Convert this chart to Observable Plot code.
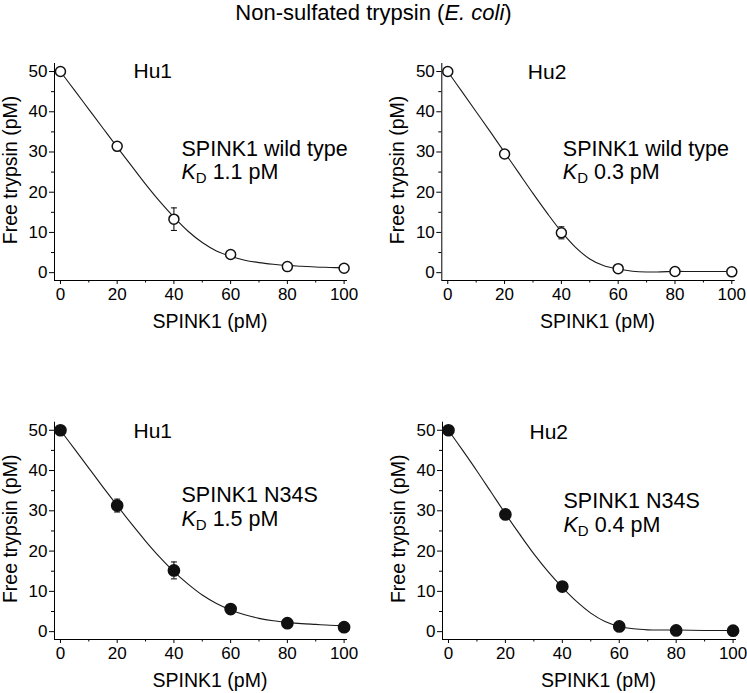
<!DOCTYPE html>
<html>
<head>
<meta charset="utf-8">
<script src="https://cdn.jsdelivr.net/npm/d3@7"></script>
<script src="https://cdn.jsdelivr.net/npm/@observablehq/plot@0.6"></script>
<style>
  html, body { margin: 0; padding: 0; background: #fff; }
  #page { position: relative; width: 747px; height: 693px; font-family: "Liberation Sans", Arial, sans-serif; color: #000; }
  #title { position: absolute; left: 0; top: 0; width: 747px; text-align: center; font-size: 22px; line-height: 26px; z-index: 2; }
  .panel { position: absolute; }
  .panel svg { overflow: visible; }
</style>
</head>
<body>
<div id="page">
  <div id="title">Non-sulfated trypsin (<i>E. coli</i>)</div>
</div>
<script>
// ---------- data ----------
const SPINK1_CONC = [0, 20, 40, 60, 80, 100];
const CURVE_CONC = [0, 5, 10, 15, 20, 25, 30, 35, 40, 45, 50, 55, 60, 65, 70, 75, 80, 85, 90, 95, 100];

const PANEL_ENZYME  = ["Hu1", "Hu2", "Hu1", "Hu2"];
const PANEL_VARIANT = ["SPINK1 wild type", "SPINK1 wild type", "SPINK1 N34S", "SPINK1 N34S"];
const PANEL_KD      = ["1.1", "0.3", "1.5", "0.4"];
const PANEL_FILLED  = [false, false, true, true];

const FREE_HU1_WT   = [50, 31.4, 13.3, 4.5, 1.5, 1.1];
const ERR_HU1_WT    = [0.3, 0.5, 2.8, 0.4, 0.3, 0.2];
const FREE_HU2_WT   = [50, 29.5, 9.9, 1.0, 0.3, 0.2];
const ERR_HU2_WT    = [0.2, 0.5, 1.5, 0.3, 0.2, 0.2];
const FREE_HU1_N34S = [50, 31.3, 15.2, 5.6, 2.1, 1.1];
const ERR_HU1_N34S  = [0.3, 1.6, 2.1, 0.5, 0.3, 0.2];
const FREE_HU2_N34S = [50, 29.1, 11.2, 1.3, 0.3, 0.25];
const ERR_HU2_N34S  = [0.2, 0.6, 0.6, 0.3, 0.2, 0.2];

const FIT_HU1_WT   = [50, 45.3, 40.6, 35.9, 31.2, 26.6, 22.0, 17.7, 13.8, 10.3, 7.5, 5.4, 4.1, 3.1, 2.5, 2.1, 1.8, 1.6, 1.4, 1.3, 1.2];
const FIT_HU2_WT   = [50, 45.0, 40.0, 35.0, 29.9, 24.8, 19.7, 14.8, 10.2, 6.3, 3.4, 1.7, 0.9, 0.35, 0.15, 0.2, 0.3, 0.3, 0.3, 0.3, 0.3];
const FIT_HU1_N34S = [50, 45.3, 40.6, 35.9, 31.3, 26.8, 22.5, 18.5, 14.9, 11.8, 9.1, 7.0, 5.4, 4.2, 3.3, 2.7, 2.3, 2.0, 1.8, 1.6, 1.5];
const FIT_HU2_N34S = [50, 45.0, 39.9, 34.6, 29.3, 24.2, 19.3, 14.9, 11.0, 7.5, 4.6, 2.5, 1.3, 0.7, 0.45, 0.4, 0.4, 0.35, 0.3, 0.3, 0.3];

const X_TICKS = [0, 20, 40, 60, 80, 100];
const X_MINOR = [10, 30, 50, 70, 90];
const Y_TICKS = [0, 10, 20, 30, 40, 50];
const Y_MINOR = [5, 15, 25, 35, 45];
const X_LABEL = "SPINK1 (pM)";
const Y_LABEL = "Free trypsin (pM)";

const FREE = [FREE_HU1_WT, FREE_HU2_WT, FREE_HU1_N34S, FREE_HU2_N34S];
const ERR  = [ERR_HU1_WT, ERR_HU2_WT, ERR_HU1_N34S, ERR_HU2_N34S];
const FIT  = [FIT_HU1_WT, FIT_HU2_WT, FIT_HU1_N34S, FIT_HU2_N34S];

// ---------- layout ----------
const X_DOMAIN = [-2.1, 101.2];
const Y_DOMAIN = [-1.95, 52];
const FONT = '"Liberation Sans", Arial, sans-serif';
const LAYOUT = [
  {left: 0,   top: 0,   width: 373, height: 340, ml: 54, mr: 26, mt: 63, mb: 60, hu: [79, 0], var: [127, 77]},
  {left: 373, top: 0,   width: 374, height: 340, ml: 68.3, mr: 12.3, mt: 63, mb: 60, hu: [86, 1], var: [121, 77]},
  {left: 0,   top: 340, width: 373, height: 353, ml: 54, mr: 26, mt: 81.7, mb: 54, hu: [79, 1], var: [127, 65]},
  {left: 373, top: 340, width: 374, height: 353, ml: 69, mr: 11, mt: 81.7, mb: 54, hu: [87, 1.5], var: [121, 71]}
];

const capSymbol = {
  draw(context, size) {
    const w = Math.sqrt(size / Math.PI);
    context.moveTo(-w, 0);
    context.lineTo(w, 0);
  }
};

const page = document.getElementById("page");

for (let i = 0; i < 4; i++) {
  const L = LAYOUT[i];
  const pts = SPINK1_CONC.map((x, j) => ({x, y: FREE[i][j], e: ERR[i][j]}));
  const fit = CURVE_CONC.map((x, j) => ({x, y: FIT[i][j]}));
  const filled = PANEL_FILLED[i];

  const svg = Plot.plot({
    width: L.width,
    height: L.height,
    marginLeft: L.ml, marginRight: L.mr, marginTop: L.mt, marginBottom: L.mb,
    x: {domain: X_DOMAIN},
    y: {domain: Y_DOMAIN},
    style: {fontFamily: FONT, fontSize: "17px", color: "#000", background: "transparent", overflow: "visible"},
    marks: [
      Plot.ruleX([X_DOMAIN[0]], {stroke: "#000", strokeWidth: 1}),
      Plot.ruleY([Y_DOMAIN[0]], {stroke: "#000", strokeWidth: 1}),
      Plot.axisX(X_TICKS, {tickSize: 4, tickPadding: 3, label: null, fontSize: 17}),
      Plot.axisX(X_MINOR, {tickSize: 2.5, tickFormat: () => "", label: null}),
      Plot.axisY(Y_TICKS, {tickSize: 5, tickPadding: 2, label: null, fontSize: 17}),
      Plot.axisY(Y_MINOR, {tickSize: 3, tickFormat: () => "", label: null}),
      Plot.text([X_LABEL], {text: d => d, frameAnchor: "bottom", textAnchor: "middle", lineAnchor: "middle", dx: 9, dy: 41, fontSize: 19.5}),
      Plot.text([Y_LABEL], {text: d => d, frameAnchor: "left", textAnchor: "middle", lineAnchor: "middle", rotate: -90, dx: -44, dy: -2, fontSize: 19.5}),
      Plot.line(fit, {x: "x", y: "y", curve: "catmull-rom", stroke: "#1a1a1a", strokeWidth: 1.1}),
      Plot.ruleX(pts, {x: "x", y1: d => d.y - d.e, y2: d => d.y + d.e, stroke: "#000", strokeWidth: 1}),
      Plot.dot(pts, {x: "x", y: d => d.y - d.e, symbol: capSymbol, r: 3, stroke: "#000", strokeWidth: 1, fill: "none"}),
      Plot.dot(pts, {x: "x", y: d => d.y + d.e, symbol: capSymbol, r: 3, stroke: "#000", strokeWidth: 1, fill: "none"}),
      Plot.dot(pts, {x: "x", y: "y", r: filled ? 5.6 : 5, fill: filled ? "#111" : "#fff", stroke: "#111", strokeWidth: 1.5}),
      Plot.text([PANEL_ENZYME[i]], {text: d => d, frameAnchor: "top-left", textAnchor: "start", lineAnchor: "top", dx: L.hu[0], dy: L.hu[1], fontSize: 21}),
      Plot.text([PANEL_VARIANT[i]], {text: d => d, frameAnchor: "top-left", textAnchor: "start", lineAnchor: "top", dx: L.var[0], dy: L.var[1], fontSize: 21.5}),
      Plot.text([PANEL_KD[i]], {text: d => "KD " + d + " pM", frameAnchor: "top-left", textAnchor: "start", lineAnchor: "top", dx: L.var[0], dy: L.var[1] + 23.5, fontSize: 21.5})
    ]
  });

  const ns = "http://www.w3.org/2000/svg";
  svg.querySelectorAll("text").forEach(t => {
    const m = /^KD (.*)$/.exec(t.textContent);
    if (!m) return;
    t.textContent = "";
    const k = document.createElementNS(ns, "tspan");
    k.setAttribute("font-style", "italic");
    k.textContent = "K";
    const d = document.createElementNS(ns, "tspan");
    d.setAttribute("font-size", "15");
    d.setAttribute("dy", "4");
    d.textContent = "D";
    const r = document.createElementNS(ns, "tspan");
    r.setAttribute("dy", "-4");
    r.textContent = "\u00a0" + m[1];
    t.append(k, d, r);
  });

  const holder = document.createElement("div");
  holder.className = "panel";
  holder.style.left = L.left + "px";
  holder.style.top = L.top + "px";
  holder.appendChild(svg);
  page.appendChild(holder);
}
</script>
</body>
</html>
